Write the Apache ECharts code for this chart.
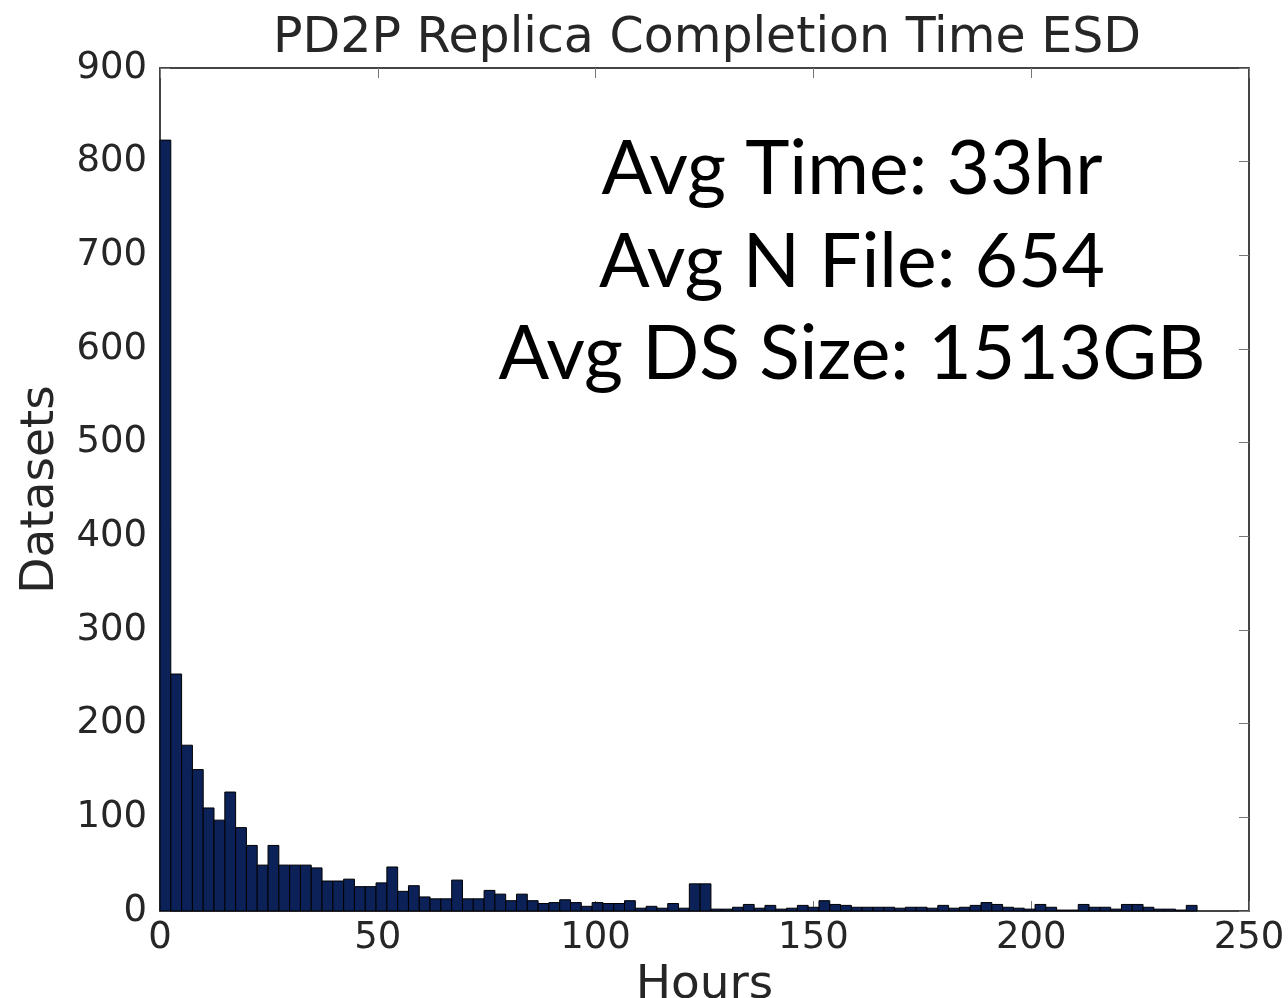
<!DOCTYPE html>
<html>
<head>
<meta charset="utf-8">
<title>PD2P Replica Completion Time ESD</title>
<script src="https://cdn.jsdelivr.net/npm/echarts@6/dist/echarts.min.js"></script>
<style>
  html, body { margin: 0; padding: 0; background: #fff; }
  #chart { width: 1288px; height: 998px; }
</style>
</head>
<body>
<div id="chart"></div>
<script>
// histogram bins: width in hours, counts per bin starting at 0
const BIN_WIDTH = 2.48;
const counts = [
  823, 253, 177, 151, 110, 97, 127, 89, 70, 49,
  70, 49, 49, 49, 46, 32, 32, 34, 26, 26,
  30, 47, 21, 27, 15, 13, 13, 33, 13, 13,
  22, 18, 11, 18, 11, 8, 9, 12, 9, 5,
  9, 8, 8, 11, 3, 5, 3, 8, 3, 29,
  29, 2, 2, 4, 7, 3, 6, 2, 3, 6,
  4, 11, 7, 6, 4, 4, 4, 4, 3, 4,
  4, 3, 6, 3, 4, 6, 9, 7, 4, 3,
  2, 7, 4, 1, 1, 7, 4, 4, 2, 7,
  7, 4, 2, 2, 1, 6
];
const xTicks = { min: 0, max: 250, interval: 50 };
const yTicks = { min: 0, max: 900, interval: 100 };
const notes = ['Avg Time: 33hr', 'Avg N File: 654', 'Avg DS Size: 1513GB'];

const bins = counts.map((c, i) => [i * BIN_WIDTH, (i + 1) * BIN_WIDTH, c]);

const chart = echarts.init(document.getElementById('chart'));
const tickFont = { fontFamily: 'DejaVu Sans', fontSize: 37, color: '#262626' };
const lineStyle = { color: '#444', width: 2 };
const tickStyle = { show: true, inside: true, length: 10, lineStyle: { color: '#777', width: 1 } };

const option = {
  animation: false,
  title: {
    text: 'PD2P Replica Completion Time ESD',
    left: 702,
    textAlign: 'center',
    top: 10,
    textStyle: { fontFamily: 'DejaVu Sans', fontSize: 49, fontWeight: 'normal', color: '#262626' }
  },
  grid: { left: 160, right: 39, top: 68, bottom: 87, outerBoundsMode: 'none' },
  xAxis: [
    {
      type: 'value', min: xTicks.min, max: xTicks.max, interval: xTicks.interval,
      name: 'Hours', nameLocation: 'middle', nameGap: 44,
      nameTextStyle: { fontFamily: 'DejaVu Sans', fontSize: 47, color: '#262626' },
      axisLine: { show: true, onZero: false, lineStyle: lineStyle },
      axisTick: tickStyle,
      axisLabel: Object.assign({ margin: 9 }, tickFont),
      splitLine: { show: false }
    },
    {
      type: 'value', position: 'top', min: xTicks.min, max: xTicks.max, interval: xTicks.interval,
      axisLine: { show: true, onZero: false, lineStyle: lineStyle },
      axisTick: tickStyle,
      axisLabel: { show: false },
      splitLine: { show: false }
    }
  ],
  yAxis: [
    {
      type: 'value', min: yTicks.min, max: yTicks.max, interval: yTicks.interval,
      name: 'Datasets', nameLocation: 'middle', nameGap: 96, nameRotate: 90,
      nameTextStyle: { fontFamily: 'DejaVu Sans', fontSize: 47, color: '#262626' },
      axisLine: { show: true, onZero: false, lineStyle: lineStyle },
      axisTick: tickStyle,
      axisLabel: Object.assign({ margin: 13 }, tickFont),
      splitLine: { show: false }
    },
    {
      type: 'value', position: 'right', min: yTicks.min, max: yTicks.max, interval: yTicks.interval,
      axisLine: { show: true, onZero: false, lineStyle: lineStyle },
      axisTick: tickStyle,
      axisLabel: { show: false },
      splitLine: { show: false }
    }
  ],
  graphic: notes.map((t, i) => ({
    type: 'text',
    x: 852,
    y: 170 + i * 92.5,
    style: {
      text: t,
      textAlign: 'center',
      textVerticalAlign: 'middle',
      font: '75px Lato',
      fill: '#000'
    }
  })),
  series: [
    {
      type: 'custom',
      xAxisIndex: 0,
      yAxisIndex: 0,
      encode: { x: [0, 1], y: 2 },
      data: bins,
      renderItem: function (params, api) {
        const p0 = api.coord([api.value(0), api.value(2)]);
        const p1 = api.coord([api.value(1), 0]);
        return {
          type: 'rect',
          shape: { x: p0[0], y: p0[1], width: p1[0] - p0[0], height: p1[1] - p0[1] },
          style: { fill: '#0b2157', stroke: '#000', lineWidth: 1 }
        };
      }
    }
  ]
};
chart.setOption(option);
</script>
</body>
</html>
